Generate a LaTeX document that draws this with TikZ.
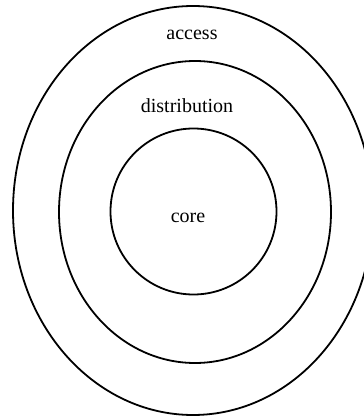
\documentclass[tikz,border=0pt]{standalone}
\usepackage{fontspec}
\setmainfont{Liberation Serif}
\usepackage{tikz}

\begin{document}
\begin{tikzpicture}[x=1pt,y=1pt,line width=0.9pt]
            \useasboundingbox (0,0) rectangle (182,209.5);
            \clip (0,0) rectangle (182,209.5);
            \draw (96.5,104.25) ellipse (90pt and 102.25pt);
            \draw (97.5,103.5) ellipse (68pt and 75.5pt);
            \draw (96.75,103.75) circle (41.5pt);
            \node (access) at (96,192) {access};
            \node (distribution) at (93.5,156.5) {distribution};
            \node (core) at (94,100.5) {core};
        \end{tikzpicture}
\end{document}
